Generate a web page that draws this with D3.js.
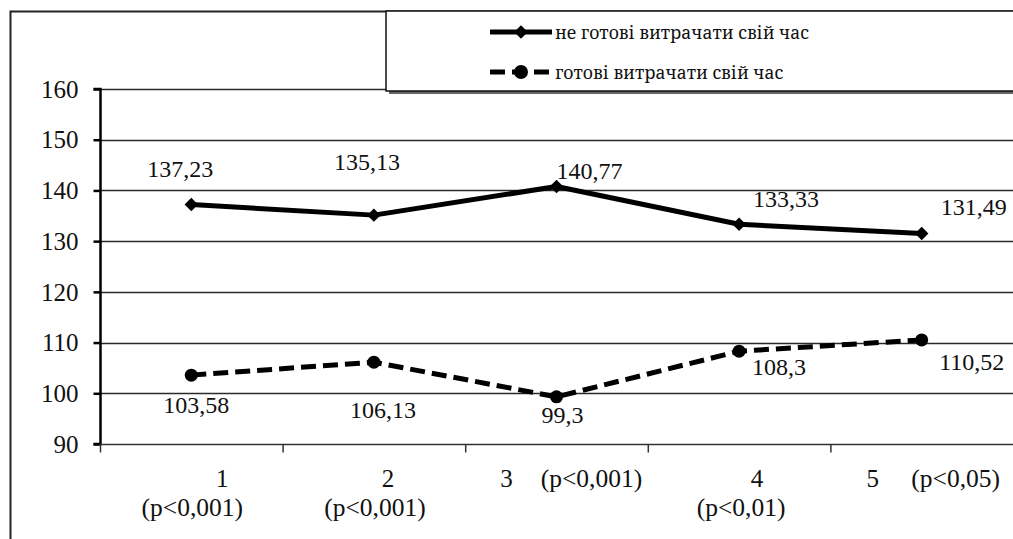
<!DOCTYPE html>
<html><head><meta charset="utf-8">
<script src="https://cdn.jsdelivr.net/npm/d3@7"></script>
<style>body{margin:0;background:#fff}svg{display:block}</style>
</head><body><svg id="c" width="1013" height="539"></svg>
<script>
const categories = ["1","2","3","4","5"];
const pLabels = ["(p<0,001)","(p<0,001)","(p<0,001)","(p<0,01)","(p<0,05)"];
const seriesNames = ["не готові витрачати свій час","готові витрачати свій час"];
const notReady = [137.23,135.13,140.77,133.33,131.49];
const ready = [103.58,106.13,99.3,108.3,110.52];
const notReadyLabels = ["137,23","135,13","140,77","133,33","131,49"];
const readyLabels = ["103,58","106,13","99,3","108,3","110,52"];
const yTicks = [90,100,110,120,130,140,150,160];

const SERIF = "'Liberation Serif', 'Times New Roman', serif";
const svg = d3.select("#c");
const x = d3.scaleBand().domain(categories).range([100,1013]);
const y = d3.scaleLinear().domain([90,160]).range([444,89]);
const cx = c => x(c) + x.bandwidth()/2;

// frame
svg.append("path").attr("d","M10.5,539V11.5H1013").attr("fill","none").attr("stroke","#222").attr("stroke-width",2);

// gridlines
svg.append("g").selectAll("line").data(yTicks.slice(1)).join("line")
  .attr("x1",100).attr("x2",1013).attr("y1",d=>Math.round(y(d))+0.5).attr("y2",d=>Math.round(y(d))+0.5)
  .attr("stroke","#2a2a2a").attr("stroke-width",1.4);

// y axis
const ya = svg.append("g").attr("transform","translate(100.5,0)")
  .call(d3.axisLeft(y).tickValues(yTicks).tickSize(7).tickPadding(15).tickFormat(d3.format("d")));
ya.select(".domain").attr("stroke","#000").attr("stroke-width",2.5).attr("d","M-7,"+y(160)+"H0V"+y(90)+"H-7");
ya.selectAll(".tick line").attr("stroke","#000").attr("stroke-width",2.5);
ya.selectAll(".tick text").attr("font-size",25).attr("fill","#111").attr("dy","0.33em");

// x axis
const xa = svg.append("g").attr("transform","translate(0,"+(Math.round(y(90))+0.5)+")");
xa.append("line").attr("x1",100).attr("x2",1013).attr("stroke","#333").attr("stroke-width",1.5);
xa.selectAll("line.t").data(categories).join("line").attr("class","t")
  .attr("x1",d=>x(d)+0.5).attr("x2",d=>x(d)+0.5).attr("y1",0).attr("y2",8).attr("stroke","#333").attr("stroke-width",1.5);
const numDx = [31,14,-50,18,-49];
const pDx = [1,1,35,2,34];
const pRow = [2,2,1,2,1];
const rowY = [0,42,71];
xa.selectAll("text.n").data(categories).join("text").attr("class","n")
  .attr("x",(d,i)=>cx(d)+numDx[i]).attr("y",rowY[1]).attr("text-anchor","middle").attr("font-size",25).text(d=>d);
xa.selectAll("text.p").data(categories).join("text").attr("class","p")
  .attr("x",(d,i)=>cx(d)+pDx[i]).attr("y",(d,i)=>rowY[pRow[i]]).attr("text-anchor","middle").attr("font-size",25.5)
  .text((d,i)=>pLabels[i]);

// lines
const line = d3.line().x((d,i)=>cx(categories[i])).y(d=>y(d));
svg.append("path").datum(notReady).attr("d",line).attr("fill","none").attr("stroke","#000").attr("stroke-width",5).attr("stroke-linejoin","round");
svg.append("path").datum(ready).attr("d",line).attr("fill","none").attr("stroke","#000").attr("stroke-width",5).attr("stroke-dasharray","15,7");

const diamond = d3.symbol().type(d3.symbolDiamond2 || d3.symbolDiamond).size(115);
svg.append("g").selectAll("path").data(notReady).join("path")
  .attr("transform",(d,i)=>`translate(${cx(categories[i])},${y(d)})`).attr("d",diamond).attr("fill","#000");
svg.append("g").selectAll("circle").data(ready).join("circle")
  .attr("cx",(d,i)=>cx(categories[i])).attr("cy",d=>y(d)).attr("r",6.5).attr("fill","#000");

// data labels
const nlx = [-11,-7,33,47,52], nly = [-27,-45,-8,-17,-19];
svg.append("g").selectAll("text").data(notReady).join("text")
  .attr("x",(d,i)=>cx(categories[i])+nlx[i]).attr("y",(d,i)=>y(d)+nly[i]).attr("text-anchor","middle").attr("font-size",24)
  .text((d,i)=>notReadyLabels[i]);
const rlx = [5,9,6,40,50], rly = [38,56,26,24,30];
svg.append("g").selectAll("text").data(ready).join("text")
  .attr("x",(d,i)=>cx(categories[i])+rlx[i]).attr("y",(d,i)=>y(d)+rly[i]).attr("text-anchor","middle").attr("font-size",24)
  .text((d,i)=>readyLabels[i]);

// legend
const lg = svg.append("g");
lg.append("rect").attr("x",389).attr("y",14).attr("width",640).attr("height",80).attr("fill","#666");
lg.append("rect").attr("x",386).attr("y",11).attr("width",640).attr("height",80).attr("fill","#fff").attr("stroke","#111").attr("stroke-width",1.5);
const ly = [32,72];
lg.append("line").attr("x1",490).attr("x2",552).attr("y1",ly[0]).attr("y2",ly[0]).attr("stroke","#000").attr("stroke-width",5);
lg.append("path").attr("transform",`translate(521,${ly[0]})`).attr("d",diamond).attr("fill","#000");
lg.append("line").attr("x1",490).attr("x2",552).attr("y1",ly[1]).attr("y2",ly[1]).attr("stroke","#000").attr("stroke-width",5).attr("stroke-dasharray","15,7").attr("stroke-linecap","butt");
lg.append("circle").attr("cx",521).attr("cy",ly[1]).attr("r",7).attr("fill","#000");
lg.selectAll("text").data(seriesNames).join("text").attr("x",555).attr("y",(d,i)=>ly[i]+7)
  .attr("font-size",17.6).attr("class","lgt").text(d=>d);

svg.selectAll("text").style("font-family",SERIF).style("fill","#111");
svg.selectAll("text.lgt").style("font-family","'Noto Serif', serif");
</script></body></html>
